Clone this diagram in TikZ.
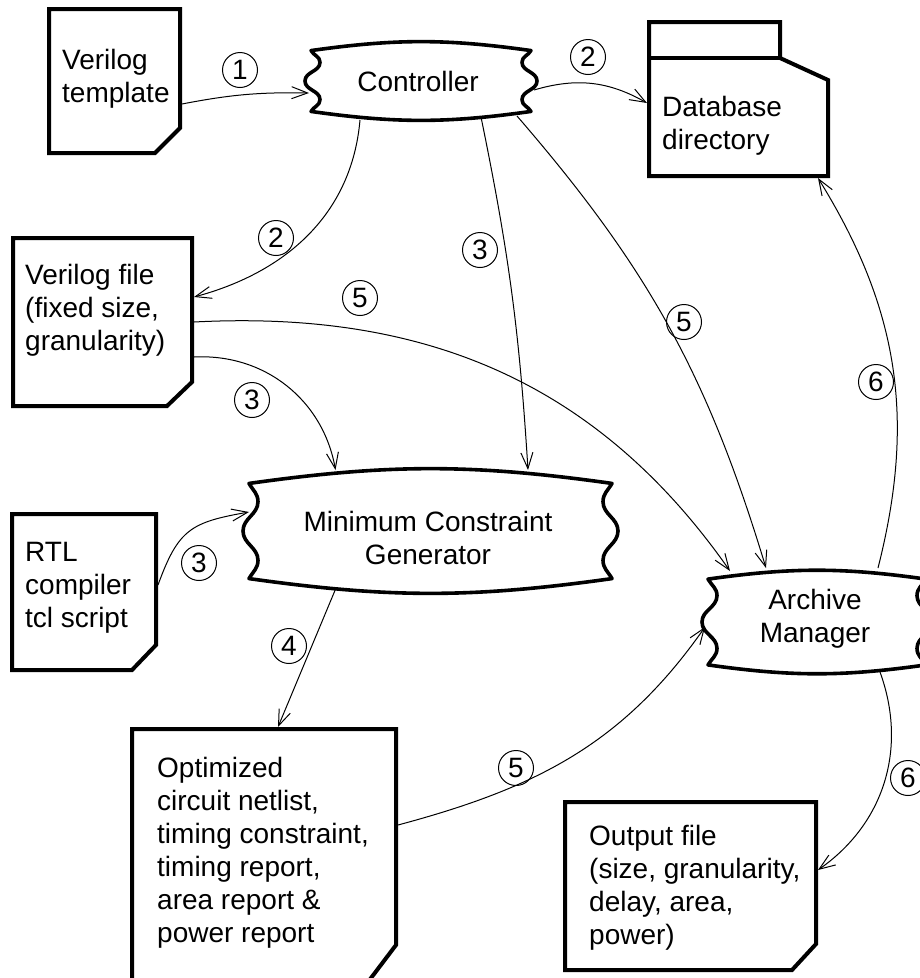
\documentclass[tikz,border=0pt]{standalone}
\usepackage{fontspec}
\setmainfont{Liberation Sans}
\usetikzlibrary{arrows.meta,calc}
\newcommand\mainfnt{\fontsize{28}{33}\selectfont}
\tikzset{
  conn/.style={line width=1pt, -{Straight Barb[length=16pt,width=12pt]}},
  doc/.style={line width=4pt, line join=miter},
  wavyline/.style={line width=3.6pt, line join=round},
  shapenode/.style={rectangle, inner sep=0pt, outer sep=0pt, draw=none},
  num/.style={circle, draw, line width=1pt, minimum size=35pt, inner sep=0pt, font=\mainfnt},
  txt/.style={anchor=north west, inner sep=0pt, align=left, font=\mainfnt},
  ctxt/.style={anchor=north, inner sep=0pt, align=center, font=\mainfnt},
}
% name x1 y1 x2 y2 cutx cuty
\newcommand\docbox[7]{%
  \node[shapenode, outer sep=2pt, minimum width={(#4-#2)*1pt}, minimum height={(#5-#3)*1pt}] (#1) at ({(#2+#4)/2},{(#3+#5)/2}) {};
  \draw[doc] (#2,#3) -- (#4,#3) -- (#4,{#5-#7}) -- ({#4-#6},#5) -- (#2,#5) -- cycle;
}
\newcommand\wavyoutline[1]{%
  \draw[wavyline] let \p1=(#1.north west), \p2=(#1.south east),
    \n1={0.11*(\y1-\y2)}, \n2={0.26*(\y1-\y2)}, \n3={(\y1+\y2)/2} in
    ({\x1+6pt},{\y1-\n1*1pt}) to[bend left=8] ({\x2-6pt},{\y1-\n1*1pt})
    to[out=-120,in=90] ({\x2-15pt},{\y1-\n2*1pt})
    to[out=-90,in=90] ({\x2},{\n3*1pt})
    to[out=-90,in=90] ({\x2-15pt},{\y2+\n2*1pt})
    to[out=-90,in=120] ({\x2-6pt},{\y2+\n1*1pt})
    to[bend left=8] ({\x1+6pt},{\y2+\n1*1pt})
    to[out=60,in=-90] ({\x1+15pt},{\y2+\n2*1pt})
    to[out=90,in=-90] ({\x1},{\n3*1pt})
    to[out=90,in=-90] ({\x1+15pt},{\y1-\n2*1pt})
    to[out=90,in=-60] ({\x1+6pt},{\y1-\n1*1pt}) -- cycle;
}
\begin{document}
\begin{tikzpicture}[x=1pt,y=-1pt]
\path[use as bounding box] (0,0) rectangle (920,978);
\clip (0,0) rectangle (920,978);

% document boxes
\docbox{vt}{49}{9}{180}{153}{25}{25}
\docbox{vf}{13}{238}{192}{406}{25}{24}
\docbox{rtl}{12}{514}{156}{670}{24}{25}
\docbox{opt}{132}{729}{396}{982}{28}{37}
\docbox{outf}{565}{802}{816}{970}{24}{26}

\node[txt] (vttext) at (62,49.5) {Verilog\\template};
\node[txt] (vftext) at (25,264.5) {Verilog file\\(fixed size,\\granularity)};
\node[txt] (rtltext) at (25,542.5) {RTL\\compiler\\tcl script};
\node[txt] (opttext) at (157,756.5) {Optimized\\circuit netlist,\\timing constraint,\\timing report,\\area report \&\\power report};
\node[txt] (outtext) at (589,824.5) {Output file\\(size, granularity,\\delay, area,\\power)};

% database folder
\node[shapenode, outer sep=2pt, minimum width=179pt, minimum height=154pt] (db) at (738.5,99) {};
\draw[doc] (649,22) -- (780,22) -- (780,58) -- (828,80) -- (828,176) -- (649,176) -- cycle;
\draw[doc] (649,58) -- (780,58);
\node[txt] (dbtext) at (662,96.5) {Database\\directory};

% wavy process shapes
\node[shapenode, minimum width=232pt, minimum height=78pt] (ctrl) at (421,81) {};
\wavyoutline{ctrl}
\node[inner sep=0pt, font=\mainfnt] (ctrltext) at (418,81) {Controller};

\node[shapenode, minimum width=375pt, minimum height=122pt] (mcg) at (430.5,531) {};
\wavyoutline{mcg}
\node[ctxt] (mcgtext) at (428,511.5) {Minimum Constraint\\Generator};

\node[shapenode, minimum width=230pt, minimum height=110pt] (arc) at (817,622) {};
\wavyoutline{arc}
\node[ctxt] (arctext) at (815,589.5) {Archive\\Manager};

% connectors
\draw[conn] ($(vt.east)+(0,23)$) to[bend left=6] ($(ctrl.west)+(4,12)$);
\draw[conn] ($(ctrl.east)+(-3,9)$) to[bend left=23] ($(db.west)+(0,4)$);
\draw[conn] ($(ctrl.south)+(-61,0)$) to[out=-95,in=15] ($(vf.east)+(0,-25)$);
\draw[conn] (vf.east) to[out=3,in=125] ($(arc.north)+(-87,4)$);
\draw[conn] ($(vf.east)+(0,35)$) to[out=3,in=100] ($(mcg.north)+(-95,0)$);
\draw[conn] ($(ctrl.south)+(60,-3)$) to[bend left=4] ($(mcg.north)+(97.5,0)$);
\draw[conn] ($(ctrl.south)+(96,-4)$) to[bend left=12] ($(arc.north)+(-51,1)$);
\draw[conn] ($(arc.north)+(61,1)$) to[bend right=23] ($(db.south)+(79.5,0)$);
\draw[conn] ($(mcg.south)+(-94.5,-4)$) -- ($(opt.north)+(14,0)$);
\draw[conn] ($(rtl.east)+(0,-7)$) to[out=70,in=190,looseness=1.3] ($(mcg.west)+(6,-19)$);
\draw[conn] ($(opt.east)+(0,-30.5)$) to[out=15,in=235] ($(arc.west)+(3,5)$);
\draw[conn] ($(arc.south)+(63,-5)$) to[out=-70,in=35] ($(outf.east)+(0,-16)$);

% step numbers
\node[num] (n1) at (240,70) {1};
\node[num] (n2a) at (588,57) {2};
\node[num] (n2b) at (276,238) {2};
\node[num] (n3a) at (480,250) {3};
\node[num] (n5a) at (360,298) {5};
\node[num] (n5b) at (684,322) {5};
\node[num] (n3b) at (252,400) {3};
\node[num] (n6a) at (876,382) {6};
\node[num] (n3c) at (199,563) {3};
\node[num] (n4) at (289,646) {4};
\node[num] (n5c) at (516,768) {5};
\node[num] (n6b) at (908,778) {6};
\end{tikzpicture}
\end{document}
